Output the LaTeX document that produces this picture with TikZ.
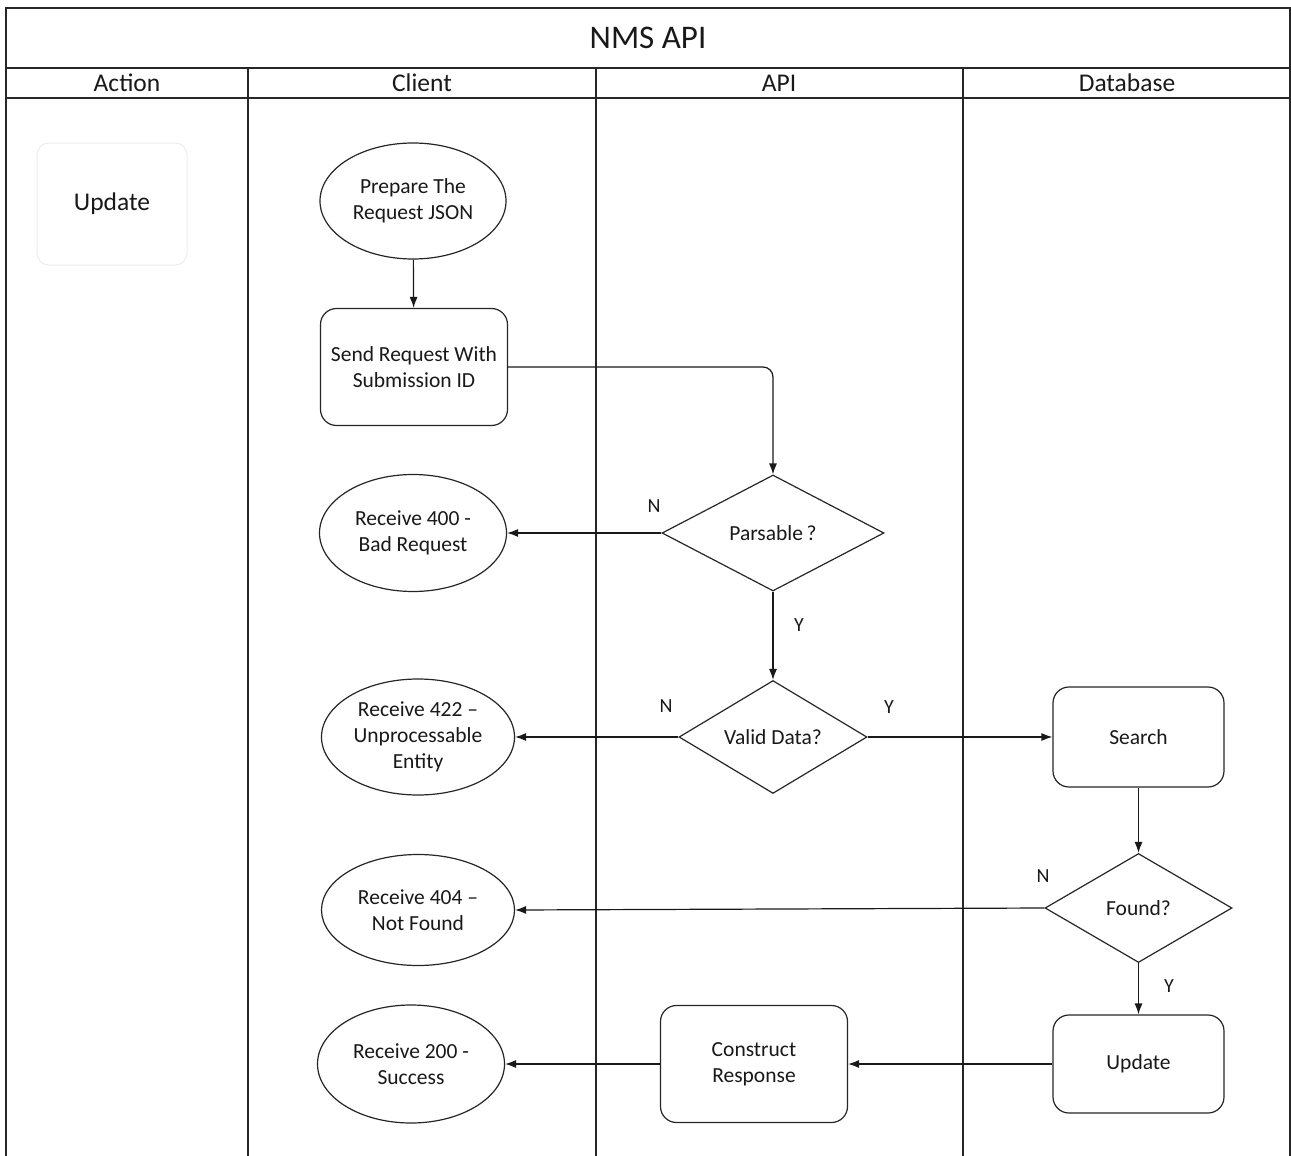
\documentclass[tikz,border=0pt]{standalone}
\usepackage{fontspec}
\setmainfont{Carlito}
\usetikzlibrary{shapes.geometric,arrows.meta}
\begin{document}
\begin{tikzpicture}[x=1pt,y=-1pt,
  lane/.style={draw=black!85,line width=1.3pt},
  txt/.style={font=\fontsize{21.5}{26}\selectfont,align=center,text=black!90},
  oval/.style={ellipse,draw=black!85,line width=1.2pt,inner sep=0pt,txt},
  rbox/.style={rectangle,rounded corners=16pt,draw=black!85,line width=1.2pt,inner sep=0pt,txt},
  dec/.style={diamond,draw=black!85,line width=1.2pt,inner sep=0pt,txt},
  flow/.style={draw=black!90,line width=1.2pt,-{Latex[length=11pt,width=8pt]}},
  lbl/.style={font=\fontsize{20}{22}\selectfont,text=black!90},
  head/.style={font=\fontsize{25.5}{28}\selectfont,text=black!90}
]
\useasboundingbox (0,0) rectangle (1291,1156);
\fill[white] (0,0) rectangle (1291,1156);
% frame and lanes
\draw[lane] (6,1156) -- (6,8) -- (1290,8) -- (1290,1156);
\draw[lane] (6,68) -- (1290,68);
\draw[lane] (6,98) -- (1290,98);
\draw[lane] (248,68) -- (248,1156);
\draw[lane] (596,68) -- (596,1156);
\draw[lane] (963,68) -- (963,1156);
\node[font=\fontsize{33}{36}\selectfont,text=black!90] (title) at (648,38) {NMS API};
\node[head] (hAction) at (127,83) {Action};
\node[head] (hClient) at (422,83) {Client};
\node[head] (hAPI) at (779,83) {API};
\node[head] (hDB) at (1127,83) {Database};
% action box
\node[rectangle,rounded corners=12pt,draw=black!7,line width=1pt,minimum width=150pt,minimum height=122pt,head] (act) at (112,204) {Update};
% nodes
\node[oval,minimum width=186pt,minimum height=116pt] (prep) at (413,201) {Prepare The\\Request JSON};
\node[rbox,minimum width=187pt,minimum height=117pt] (send) at (414,367) {Send Request With\\Submission ID};
\node[dec,minimum width=222pt,minimum height=116pt] (pars) at (773,533) {Parsable\,?};
\node[oval,minimum width=187pt,minimum height=117pt] (r400) at (413,533) {Receive 400 -\\Bad Request};
\node[dec,minimum width=188pt,minimum height=108pt] (valid) at (773,737) {Valid Data?};
\node[oval,minimum width=193pt,minimum height=116pt] (r422) at (418,737) {Receive 422 –\\Unprocessable\\Entity};
\node[rbox,minimum width=171pt,minimum height=100pt] (search) at (1138.5,737) {Search};
\node[dec,minimum width=187pt,minimum height=109pt] (found) at (1138.5,908) {Found?};
\node[oval,minimum width=193pt,minimum height=111pt] (r404) at (418,910) {Receive 404 –\\Not Found};
\node[rbox,minimum width=171pt,minimum height=98pt] (upd) at (1138.5,1064) {Update};
\node[rbox,minimum width=187pt,minimum height=117pt] (cons) at (754,1064) {Construct\\Response};
\node[oval,minimum width=187pt,minimum height=118pt] (r200) at (411,1064) {Receive 200 -\\Success};
% connectors
\draw[flow] (prep) -- (send);
\draw[flow,rounded corners=10pt] (send.east) -| (pars.north);
\draw[flow] (pars.west) -- (r400.east);
\draw[flow] (pars.south) -- (valid.north);
\draw[flow] (valid.west) -- (r422.east);
\draw[flow] (valid.east) -- (search.west);
\draw[flow] (search.south) -- (found.north);
\draw[flow] (found.west) -- (r404.east);
\draw[flow] (found.south) -- (upd.north);
\draw[flow] (upd.west) -- (cons.east);
\draw[flow] (cons.west) -- (r200.east);
% labels
\node[lbl] (n1) at (654,506) {N};
\node[lbl] (y1) at (799,625) {Y};
\node[lbl] (n2) at (666,706) {N};
\node[lbl] (y2) at (889,707) {Y};
\node[lbl] (n3) at (1043,876) {N};
\node[lbl] (y3) at (1169,986) {Y};
\end{tikzpicture}
\end{document}
